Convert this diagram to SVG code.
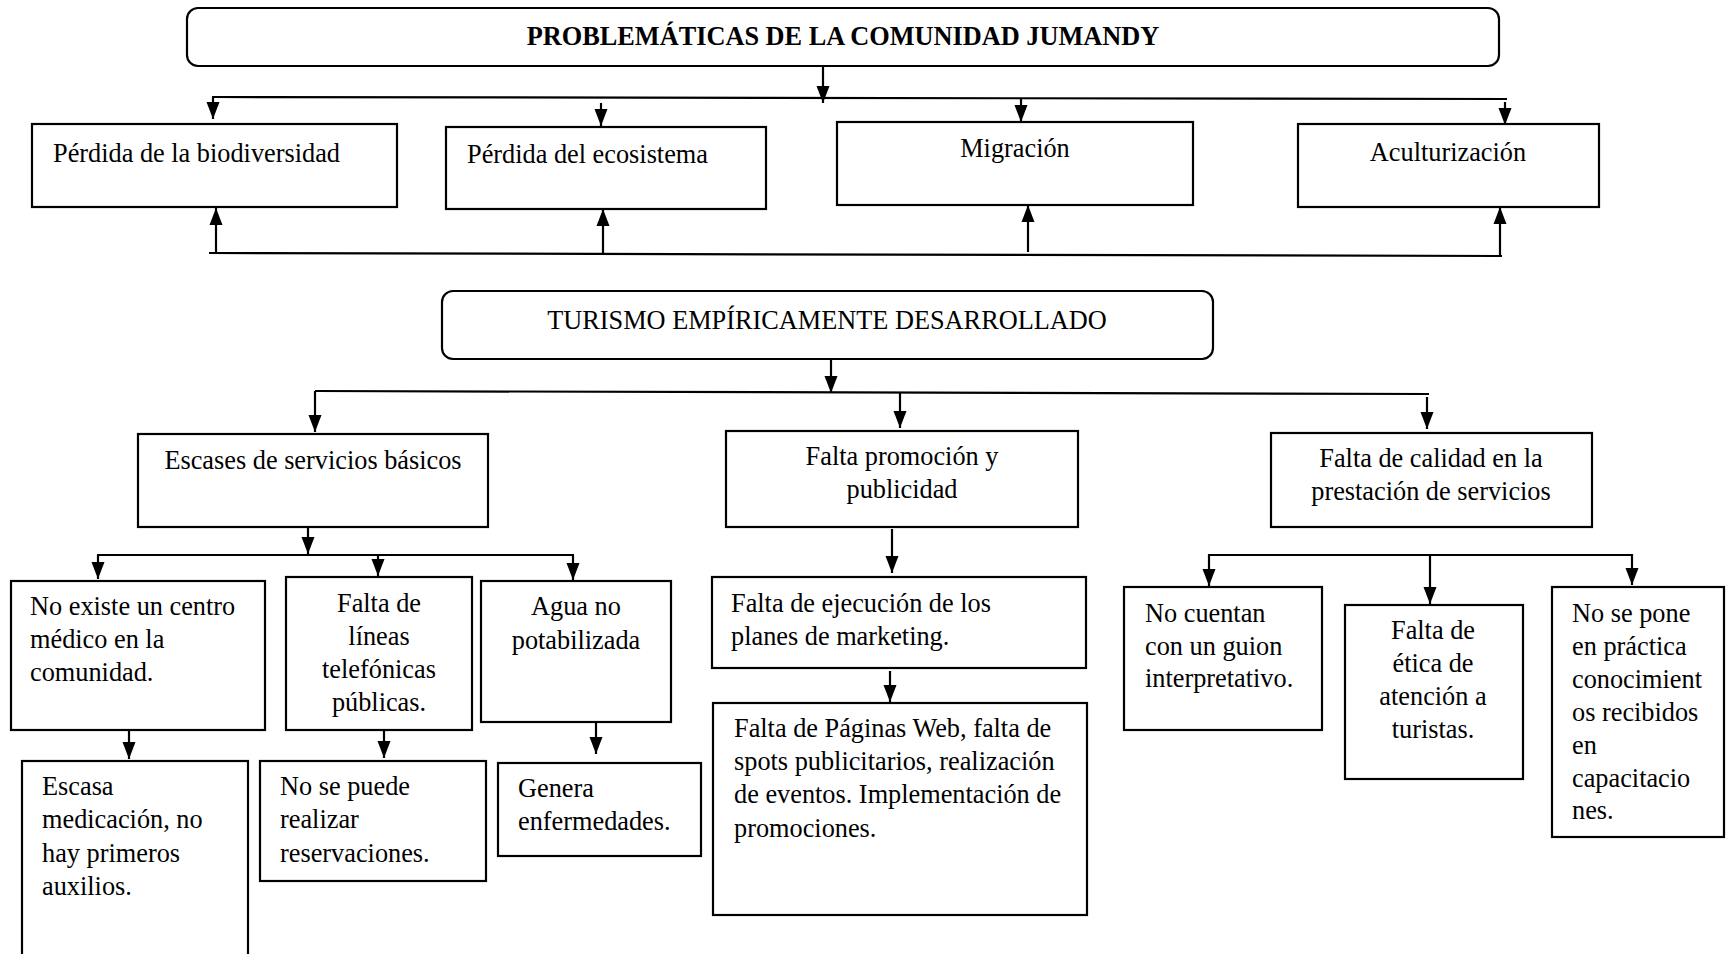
<svg xmlns="http://www.w3.org/2000/svg" width="1726" height="954" viewBox="0 0 1726 954">
<style>
.bx{fill:#fff;stroke:#000;stroke-width:2.2}
.ln{fill:none;stroke:#000;stroke-width:2.2}
.ar{fill:none;stroke:#000;stroke-width:2.2;marker-end:url(#ah)}
.t{font-family:"Liberation Serif","Times New Roman",serif;font-size:26.3px;fill:#000}
.c{text-anchor:middle}
.b{font-weight:bold}
</style>
<defs>
<marker id="ah" markerUnits="userSpaceOnUse" markerWidth="17" markerHeight="14" refX="17" refY="6.5" orient="auto" viewBox="0 0 17 13">
<path d="M0,0 L17,6.5 L0,13 z" fill="#000"/>
</marker>
</defs>
<rect width="1726" height="954" fill="#fff"/>

<g id="connectors">
<line class="ar" x1="823" y1="66" x2="823" y2="103"/>
<line class="ln" x1="212" y1="97" x2="1507" y2="99"/>
<line class="ar" x1="213" y1="97" x2="213" y2="119"/>
<line class="ar" x1="601" y1="103" x2="601" y2="126"/>
<line class="ar" x1="1021" y1="99" x2="1021" y2="122"/>
<line class="ar" x1="1505" y1="102" x2="1505" y2="125"/>

<line class="ln" x1="209" y1="253" x2="1502" y2="256"/>
<line class="ar" x1="216" y1="253" x2="216" y2="208"/>
<line class="ar" x1="603" y1="255" x2="603" y2="209"/>
<line class="ar" x1="1028" y1="252" x2="1028" y2="205"/>
<line class="ar" x1="1500" y1="256" x2="1500" y2="207"/>

<line class="ar" x1="831" y1="359" x2="831" y2="393"/>
<line class="ln" x1="315" y1="391" x2="1429" y2="394"/>
<line class="ar" x1="315" y1="391" x2="315" y2="432"/>
<line class="ar" x1="900" y1="393" x2="900" y2="428"/>
<line class="ar" x1="1427" y1="397" x2="1427" y2="429"/>

<line class="ar" x1="308" y1="528" x2="308" y2="554"/>
<line class="ln" x1="97" y1="555" x2="574" y2="555"/>
<line class="ar" x1="98" y1="555" x2="98" y2="579"/>
<line class="ar" x1="378" y1="555" x2="378" y2="576"/>
<line class="ar" x1="573" y1="555" x2="573" y2="580"/>
<line class="ar" x1="129" y1="730" x2="129" y2="759"/>
<line class="ar" x1="384" y1="727" x2="384" y2="758"/>
<line class="ar" x1="596" y1="723" x2="596" y2="754"/>

<line class="ar" x1="892" y1="529" x2="892" y2="573"/>
<line class="ar" x1="890" y1="671" x2="890" y2="702"/>

<line class="ln" x1="1208" y1="555" x2="1633" y2="555"/>
<line class="ar" x1="1209" y1="554" x2="1209" y2="586"/>
<line class="ar" x1="1430" y1="554" x2="1430" y2="604"/>
<line class="ar" x1="1632" y1="554" x2="1632" y2="585"/>
</g>

<g id="n-title">
<rect class="bx" x="187" y="8" width="1312" height="58" rx="11"/>
<text class="t c b" x="843" y="45">PROBLEMÁTICAS DE LA COMUNIDAD JUMANDY</text>
</g>
<g id="n-biodiversidad">
<rect class="bx" x="32" y="124" width="365" height="83"/>
<text class="t" x="53" y="162">Pérdida de la biodiversidad</text>
</g>
<g id="n-ecosistema">
<rect class="bx" x="446" y="127" width="320" height="82"/>
<text class="t" x="467" y="163">Pérdida del ecosistema</text>
</g>
<g id="n-migracion">
<rect class="bx" x="837" y="122" width="356" height="83"/>
<text class="t c" x="1015" y="157">Migración</text>
</g>
<g id="n-aculturizacion">
<rect class="bx" x="1298" y="124" width="301" height="83"/>
<text class="t c" x="1448" y="161">Aculturización</text>
</g>

<g id="n-turismo">
<rect class="bx" x="442" y="291" width="771" height="68" rx="11"/>
<text class="t c" x="827" y="329">TURISMO EMPÍRICAMENTE DESARROLLADO</text>
</g>
<g id="n-escases">
<rect class="bx" x="138" y="434" width="350" height="93"/>
<text class="t c" x="313" y="469">Escases de servicios básicos</text>
</g>
<g id="n-promocion">
<rect class="bx" x="726" y="431" width="352" height="96"/>
<text class="t c" x="902" y="465"><tspan x="902" y="465">Falta promoción y</tspan><tspan x="902" y="498">publicidad</tspan></text>
</g>
<g id="n-calidad">
<rect class="bx" x="1271" y="433" width="321" height="94"/>
<text class="t c" x="1431" y="467"><tspan x="1431" y="467">Falta de calidad en la</tspan><tspan x="1431" y="500">prestación de servicios</tspan></text>
</g>

<g id="n-centro">
<rect class="bx" x="11" y="581" width="254" height="149"/>
<text class="t" x="30" y="615"><tspan x="30" y="615">No existe un centro</tspan><tspan x="30" y="648">médico en la</tspan><tspan x="30" y="681">comunidad.</tspan></text>
</g>
<g id="n-lineas">
<rect class="bx" x="286" y="577" width="186" height="153"/>
<text class="t c" x="379" y="612"><tspan x="379" y="612">Falta de</tspan><tspan x="379" y="645">líneas</tspan><tspan x="379" y="678">telefónicas</tspan><tspan x="379" y="711">públicas.</tspan></text>
</g>
<g id="n-agua">
<rect class="bx" x="481" y="581" width="190" height="141"/>
<text class="t c" x="576" y="615"><tspan x="576" y="615">Agua no</tspan><tspan x="576" y="649">potabilizada</tspan></text>
</g>
<g id="n-medicacion">
<rect class="bx" x="22" y="761" width="226" height="230"/>
<text class="t" x="42" y="795"><tspan x="42" y="795">Escasa</tspan><tspan x="42" y="828">medicación, no</tspan><tspan x="42" y="862">hay primeros</tspan><tspan x="42" y="895">auxilios.</tspan></text>
</g>
<g id="n-reservaciones">
<rect class="bx" x="260" y="761" width="226" height="120"/>
<text class="t" x="280" y="795"><tspan x="280" y="795">No se puede</tspan><tspan x="280" y="828">realizar</tspan><tspan x="280" y="862">reservaciones.</tspan></text>
</g>
<g id="n-enfermedades">
<rect class="bx" x="498" y="763" width="203" height="93"/>
<text class="t" x="518" y="797"><tspan x="518" y="797">Genera</tspan><tspan x="518" y="830">enfermedades.</tspan></text>
</g>

<g id="n-ejecucion">
<rect class="bx" x="712" y="577" width="374" height="91"/>
<text class="t" x="731" y="612"><tspan x="731" y="612">Falta de ejecución de los</tspan><tspan x="731" y="645">planes de marketing.</tspan></text>
</g>
<g id="n-paginas">
<rect class="bx" x="713" y="703" width="374" height="212"/>
<text class="t" x="734" y="737"><tspan x="734" y="737">Falta de Páginas Web, falta de</tspan><tspan x="734" y="770">spots publicitarios, realización</tspan><tspan x="734" y="803">de eventos. Implementación de</tspan><tspan x="734" y="837">promociones.</tspan></text>
</g>

<g id="n-guion">
<rect class="bx" x="1124" y="587" width="198" height="143"/>
<text class="t" x="1145" y="622"><tspan x="1145" y="622">No cuentan</tspan><tspan x="1145" y="655">con un guion</tspan><tspan x="1145" y="687">interpretativo.</tspan></text>
</g>
<g id="n-etica">
<rect class="bx" x="1345" y="605" width="178" height="174"/>
<text class="t c" x="1433" y="639"><tspan x="1433" y="639">Falta de</tspan><tspan x="1433" y="672">ética de</tspan><tspan x="1433" y="705">atención a</tspan><tspan x="1433" y="738">turistas.</tspan></text>
</g>
<g id="n-conocimientos">
<rect class="bx" x="1552" y="587" width="172" height="250"/>
<text class="t" x="1572" y="622"><tspan x="1572" y="622">No se pone</tspan><tspan x="1572" y="655">en práctica</tspan><tspan x="1572" y="688">conocimient</tspan><tspan x="1572" y="721">os recibidos</tspan><tspan x="1572" y="754">en</tspan><tspan x="1572" y="787">capacitacio</tspan><tspan x="1572" y="819">nes.</tspan></text>
</g>
</svg>
